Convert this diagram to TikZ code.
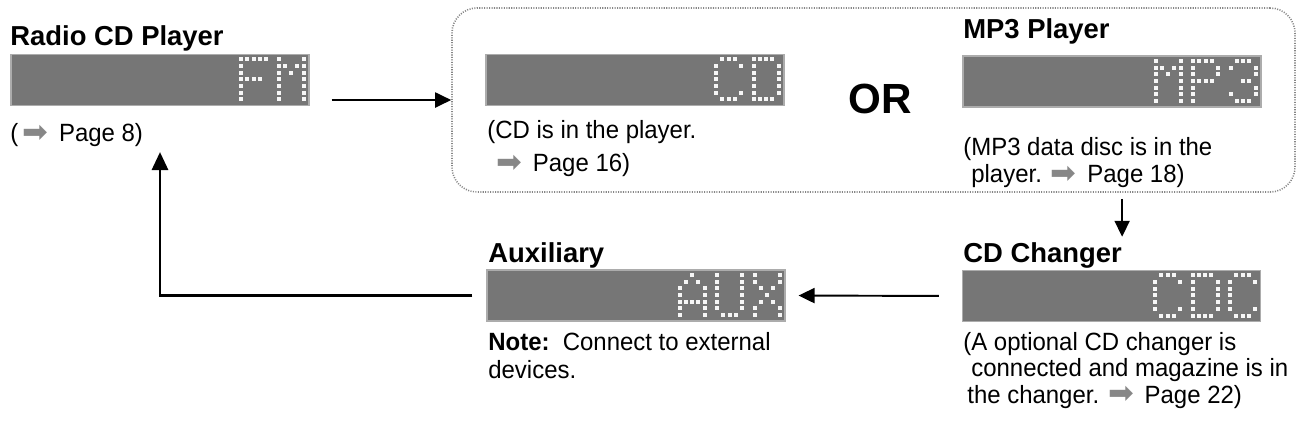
\documentclass[tikz,border=0pt]{standalone}
\usepackage{fontspec}
\setmainfont{Liberation Sans}
\newfontfamily\notefont[FakeStretch=0.96]{Liberation Sans}
\newfontfamily\symfont{DejaVu Sans}
\usepackage{tikz}
\usetikzlibrary{calc, positioning, arrows.meta}
\definecolor{lcdgray}{RGB}{118,118,118}
\definecolor{lcdedge}{RGB}{172,172,172}
\definecolor{lcdlit}{RGB}{246,246,246}
\definecolor{hintgray}{RGB}{135,135,135}
\tikzstyle{lcd}=[draw=lcdedge, fill=lcdgray, line width=0.6pt, minimum width=5.96cm, minimum height=1.02cm, inner sep=0pt]
\tikzstyle{lcddot}=[fill=lcdlit]
\tikzstyle{title}=[font=\bfseries\fontsize{15.6}{18}\selectfont, anchor=base west, inner sep=0pt]
\tikzstyle{flow}=[line width=1.1pt, -{Triangle[length=3.2mm, width=3mm]}]
\tikzstyle{backflow}=[line width=1.7pt, -{Triangle[length=3.6mm, width=3.2mm]}]
\tikzstyle{group}=[draw=gray!95, line width=0.9pt, dash pattern=on 0.6pt off 0.8pt, rounded corners=5mm, minimum width=16.86cm, minimum height=3.68cm]
\tikzset{note/.style={font=\notefont\fontsize{14.2}{#1}\selectfont, align=left, anchor=north west, inner sep=0pt}, note/.default=16pt}
\newcommand\pgarrow{\smash{\raisebox{-0.4pt}{\color{hintgray}\symfont\fontsize{17.5}{17.5}\selectfont ➡}}}
% dot matrix glyphs, col/row counted from the top left dot
\def\glyphF{0/0,1/0,2/0,3/0,4/0,0/1,0/2,0/3,1/3,2/3,3/3,0/4,0/5,0/6}
\def\glyphM{0/0,0/1,0/2,0/3,0/4,0/5,0/6,4/0,4/1,4/2,4/3,4/4,4/5,4/6,1/1,3/1,2/2}
\def\glyphC{1/0,2/0,3/0,0/1,4/1,0/2,0/3,0/4,0/5,4/5,1/6,2/6,3/6}
\def\glyphD{0/0,1/0,2/0,3/0,0/1,4/1,0/2,4/2,0/3,4/3,0/4,4/4,0/5,4/5,0/6,1/6,2/6,3/6}
\def\glyphP{0/0,1/0,2/0,3/0,4/1,4/2,0/1,0/2,0/3,1/3,2/3,3/3,0/4,0/5,0/6}
\def\glyphThree{1/0,2/0,3/0,0/1,4/1,4/2,2/3,3/3,4/4,0/5,4/5,1/6,2/6,3/6}
\def\glyphA{2/0,1/1,3/1,0/2,4/2,0/3,4/3,0/4,1/4,2/4,3/4,4/4,0/5,4/5,0/6,4/6}
\def\glyphU{0/0,0/1,0/2,0/3,0/4,0/5,4/0,4/1,4/2,4/3,4/4,4/5,1/6,2/6,3/6}
\def\glyphX{0/0,4/0,0/1,4/1,1/2,3/2,2/3,1/4,3/4,0/5,4/5,0/6,4/6}
\newcommand\lcdglyph[3]{\foreach \gx/\gy in #3 {\fill[lcddot] ($(#1)+(#2+\gx*6.25-2, 3.5+\gy*6.67)$) rectangle ++(4,4);}}

\begin{document}
\begin{tikzpicture}[x=0.2mm, y=-0.2mm]
\useasboundingbox (0,0) rectangle (1298,423);
% the dotted frame round the two disc sources
\node[group] (src) at (873.5,100) {};
% the displays
\node[lcd] (fm) at (160,80) {};
\node[lcd] (cd) at (635,80) {};
\node[lcd] (mp3) at (1112,81.5) {};
\node[lcd] (aux) at (636,295.5) {};
\node[lcd] (cdc) at (1111.5,296) {};
% the titles
\node[title] (fmtitle) at (10,45) {Radio CD Player};
\node[title] (mp3title) at (963,38) {MP3 Player};
\node[title] (auxtitle) at (488,262) {Auxiliary};
\node[title] (cdctitle) at (963,262) {CD Changer};
\node[font=\bfseries\fontsize{24}{28}\selectfont, inner sep=0pt] (or) at (880,99) {OR};
% the notes
\node[note] (fmnote) at (10,123) {(\,\pgarrow\ \,Page 8)};
\node[note=18.8pt] (cdnote) at (487,120) {(CD is in the player.\\\hspace*{1.8mm}\pgarrow\ \,Page 16)};
\node[note=15.4pt] (mp3note) at (963,137) {(MP3 data disc is in the\\\phantom{(}player. \pgarrow\ \,Page 18)};
\node[note=15.9pt] (auxnote) at (488,332) {\textbf{Note:}\ \ Connect to external\\devices.};
\node[note=15pt] (cdcnote) at (963,332) {(A optional CD changer is\\\phantom{(}connected and magazine is in\\\hspace*{0.8mm}the changer. \pgarrow\ \,Page 22)};
% the lit dots
\lcdglyph{fm.north east}{-68.5}{\glyphF}
\lcdglyph{fm.north east}{-31}{\glyphM}
\lcdglyph{cd.north east}{-68.5}{\glyphC}
\lcdglyph{cd.north east}{-31}{\glyphD}
\lcdglyph{mp3.north east}{-106}{\glyphM}
\lcdglyph{mp3.north east}{-68.5}{\glyphP}
\lcdglyph{mp3.north east}{-31}{\glyphThree}
\lcdglyph{aux.north east}{-106}{\glyphA}
\lcdglyph{aux.north east}{-68.5}{\glyphU}
\lcdglyph{aux.north east}{-31}{\glyphX}
\lcdglyph{cdc.north east}{-106}{\glyphC}
\lcdglyph{cdc.north east}{-68.5}{\glyphD}
\lcdglyph{cdc.north east}{-31}{\glyphC}
% the arrows
\draw[flow, shorten <=4.4mm] (fm.east |- src.west) -- (src.west);
\draw[flow, shorten <=1.2mm, shorten >=1mm] (cdctitle.north east |- src.south) -- (cdctitle.north east);
\draw[flow, shorten <=4.6mm, shorten >=2.6mm] (cdc.west) -- (aux.east);
\draw[backflow, shorten <=2.8mm, shorten >=9.2mm] (aux.west) -| (fm.south);
\end{tikzpicture}
\end{document}
